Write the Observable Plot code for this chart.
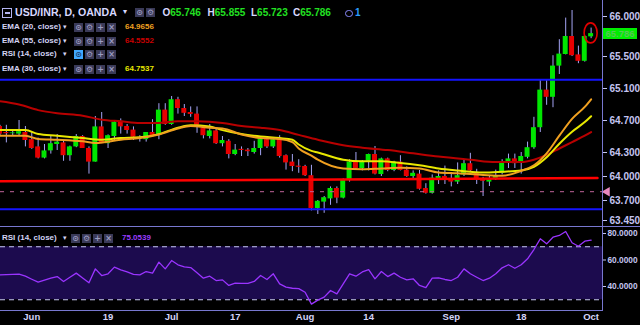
<!DOCTYPE html>
<html><head><meta charset="utf-8">
<script src="https://cdn.jsdelivr.net/npm/d3@7"></script>
<script src="https://cdn.jsdelivr.net/npm/@observablehq/plot@0.6"></script>
<style>
html,body{margin:0;padding:0;background:#000;}
#wrap{position:relative;width:640px;height:325px;background:#000;overflow:hidden;font-family:"Liberation Sans",Arial,sans-serif;}
#wrap svg{position:absolute;left:0;}
.a{position:absolute;white-space:nowrap;line-height:1;}
.lg{font-size:8px;font-weight:bold;color:#d4d4f4;}
.ib{position:absolute;width:9px;height:9px;background:#3a3a58;color:#9c9cc0;font-size:8px;line-height:9px;text-align:center;font-family:"DejaVu Sans",sans-serif;font-weight:bold;}
.ln{position:absolute;background:#7878d0;}
</style></head>
<body><div id="wrap"></div>
<script>
// ---------- data ----------
const opens = [64.625,64.55,64.535,64.53,64.55,64.46,64.37,64.23,64.32,64.40,
64.42,64.26,64.37,64.50,64.35,64.18,64.62,64.41,64.50,64.69,
64.625,64.58,64.49,64.46,64.55,64.525,64.83,64.65,64.96,64.85,
64.80,64.78,64.60,64.50,64.57,64.41,64.44,64.275,64.34,64.33,
64.30,64.35,64.46,64.37,64.48,64.26,64.18,64.13,64.125,64.01,
63.60,63.68,63.72,63.85,63.73,63.96,64.18,64.10,64.19,64.275,
64.025,64.22,64.075,64.18,64.08,64.0,64.03,63.85,63.79,63.97,
64.0,63.97,63.93,64.02,64.16,64.05,63.97,63.93,63.97,64.04,
64.18,64.22,64.18,64.24,64.36,64.61,65.08,64.99,65.38,65.525,
65.75,65.52,65.44,65.746];
const highs = [64.64,64.64,64.57,64.70,64.625,64.55,64.48,64.40,64.51,64.525,
64.44,64.38,64.525,64.51,64.37,64.75,64.80,64.52,64.69,64.72,
64.65,64.62,64.51,64.55,64.71,64.91,64.91,65.0,64.99,64.90,
64.87,64.87,64.63,64.65,64.60,64.50,64.46,64.40,64.37,64.35,
64.44,64.48,64.49,64.48,64.51,64.27,64.275,64.21,64.14,64.14,
63.70,63.75,63.87,63.87,63.97,64.21,64.30,64.20,64.28,64.375,
64.23,64.23,64.19,64.26,64.12,64.07,64.075,63.91,64.02,64.07,
64.13,64.05,64.17,64.20,64.29,64.09,63.99,64.01,64.08,64.21,
64.28,64.28,64.30,64.43,64.74,65.21,65.21,65.51,65.71,65.98,
66.075,65.63,65.76,65.855];
const lows = [64.50,64.42,64.51,64.50,64.37,64.34,64.22,64.22,64.28,64.325,
64.19,64.19,64.36,64.35,64.03,64.18,64.41,64.35,64.44,64.53,
64.53,64.45,64.43,64.43,64.50,64.46,64.64,64.64,64.78,64.75,
64.74,64.54,64.47,64.47,64.40,64.37,64.22,64.26,64.25,64.25,
64.28,64.26,64.35,64.35,64.23,64.08,64.06,64.04,64.0,63.57,
63.525,63.54,63.64,63.66,63.72,63.93,64.08,64.07,64.07,64.02,
64.0,64.06,64.06,64.07,63.99,63.95,63.83,63.78,63.78,63.90,
63.90,63.87,63.90,64.0,64.06,63.90,63.75,63.875,63.95,64.02,
64.10,64.10,64.03,64.22,64.34,64.55,64.89,64.86,65.275,65.52,
65.50,65.41,65.43,65.723];
const closes = [64.53,64.535,64.545,64.56,64.45,64.35,64.23,64.32,64.41,64.43,
64.26,64.37,64.50,64.35,64.18,64.62,64.41,64.51,64.68,64.62,
64.575,64.49,64.47,64.55,64.51,64.83,64.65,64.96,64.85,64.79,
64.775,64.64,64.51,64.57,64.41,64.45,64.275,64.33,64.325,64.31,
64.35,64.47,64.37,64.46,64.25,64.17,64.125,64.115,64.01,63.60,
63.69,63.735,63.85,63.73,63.95,64.18,64.10,64.19,64.275,64.03,
64.22,64.075,64.18,64.075,64.0,64.04,63.84,63.79,63.98,64.0,
63.95,63.93,64.01,64.16,64.07,63.97,63.94,63.96,64.01,64.17,
64.22,64.16,64.25,64.36,64.61,65.08,64.99,65.38,65.53,65.75,
65.51,65.44,65.75,65.786];

const ema20Idx = [0,4,6,9,13,15,19,22,25,28,30,33,35,38,41,44,46,47,49,50,54,57,60,63,66,69,72,76,79,82,84,86,88,90,92,93];
const ema20Val = [64.51,64.51,64.47,64.46,64.44,64.42,64.46,64.48,64.525,64.60,64.63,64.61,64.60,64.525,64.48,64.47,64.43,64.35,64.26,64.21,64.10,64.09,64.10,64.11,64.10,64.05,64.04,64.02,64.01,64.07,64.14,64.29,64.51,64.72,64.87,64.9656];
const ema30Idx = [0,4,6,9,13,16,19,22,25,28,30,33,35,38,41,44,46,47,49,50,54,57,60,63,66,69,72,76,79,82,84,86,88,90,92,93];
const ema30Val = [64.58,64.58,64.53,64.51,64.48,64.46,64.48,64.49,64.53,64.61,64.64,64.625,64.58,64.53,64.50,64.48,64.46,64.40,64.32,64.30,64.21,64.19,64.19,64.17,64.14,64.10,64.075,64.05,64.06,64.075,64.12,64.24,64.41,64.56,64.68,64.7537];
const ema55Idx = [0,3,6,9,13,16,19,22,25,28,31,35,38,41,44,47,50,54,57,61,65,69,74,78,82,84,86,88,90,92,93];
const ema55Val = [64.94,64.90,64.83,64.79,64.76,64.71,64.69,64.67,64.67,64.69,64.69,64.67,64.63,64.61,64.58,64.52,64.46,64.39,64.36,64.33,64.29,64.25,64.21,64.18,64.18,64.21,64.27,64.35,64.43,64.51,64.5552];

const rsiValues = [48.8,49.0,49.1,49.3,47.8,45.5,43.3,44.8,46.3,47.5,
43.8,47.0,50.1,46.5,42.8,53.3,48.3,49.6,54.6,52.6,
51.0,49.1,48.8,51.3,50.1,58.4,53.3,59.6,56.4,54.8,
54.3,50.3,46.3,47.8,44.5,45.0,40.8,42.5,42.4,42.3,
43.8,48.3,45.3,49.6,42.0,39.5,38.7,38.4,35.7,26.7,
29.7,32.0,37.0,34.5,42.0,49.6,47.8,51.0,52.8,45.8,
51.3,47.5,50.1,47.0,45.0,45.8,40.8,39.2,46.3,46.5,
45.3,44.5,47.0,53.3,49.6,47.0,44.5,46.3,49.6,54.1,
56.4,53.8,56.4,60.9,67.9,76.0,72.2,77.2,78.5,81.5,
73.0,70.4,74.2,75.05];
const rsiLastLabel = "75.0539";
const rsiBand = [30, 70];

const tickIdx = [5,17,27,37,48,58,71,82,93];
const tickLabels = ["Jun","19","Jul","17","Aug","14","Sep","18","Oct"];
const priceTicks = [66.0, 65.5, 65.1, 64.7, 64.3, 64.0, 63.7, 63.45];
const rsiTicks = [80, 60, 40];

const blueLevels = [65.21, 63.59];
const trendIdx = [0, 94];
const trendVal = [63.94, 63.98];
const alertLevel = 63.81;

const legendRows = [
  {label:"EMA (20, close)", value:"64.9656", color:"#f0a020"},
  {label:"EMA (55, close)", value:"64.5552", color:"#c80000"},
  {label:"RSI (14, close)", value:null, color:null},
  {label:"EMA (30, close)", value:"64.7537", color:"#e8e800"}
];
const ohlc = [["O","65.746"],["H","65.855"],["L","65.723"],["C","65.786"]];

// ---------- build ----------
const xDomain = [0.08, 94.79];
const bars = opens.map((o,i)=>({i, o, h:highs[i], l:lows[i], c:closes[i]}));
const up = bars.filter(d=>d.c>=d.o), dn = bars.filter(d=>d.c<d.o);
const pts = (idx, val) => idx.map((i,k)=>({i, v:val[k]}));
const fontFam = "Liberation Sans, Arial, sans-serif";

const main = Plot.plot({
  width:640, height:226, marginLeft:0, marginRight:38, marginTop:0, marginBottom:0,
  style:{background:"transparent", color:"#c4c4f0", fontFamily:fontFam, fontWeight:"bold", fontSize:"10px", overflow:"visible"},
  x:{domain:xDomain, axis:null},
  y:{domain:[63.375, 66.2], axis:null},
  marks:[
    Plot.ruleX(bars,{x:"i", y1:"l", y2:"h", stroke:"#a4a4f4", strokeWidth:1}),
    Plot.rect(up,{x1:d=>d.i-0.39, x2:d=>d.i+0.39, y1:"o", y2:"c", fill:"#00e600"}),
    Plot.rect(dn,{x1:d=>d.i-0.39, x2:d=>d.i+0.39, y1:"o", y2:"c", fill:"#e60000"}),
    Plot.line(pts(ema55Idx, ema55Val),{x:"i", y:"v", stroke:"#b80000", strokeWidth:2, curve:"monotone-x"}),
    Plot.line(pts(ema30Idx, ema30Val),{x:"i", y:"v", stroke:"#e8e800", strokeWidth:2, curve:"monotone-x"}),
    Plot.line(pts(ema20Idx, ema20Val),{x:"i", y:"v", stroke:"#f0a020", strokeWidth:2, curve:"monotone-x"}),
    Plot.ruleY(blueLevels,{stroke:"#1414ff", strokeWidth:2}),
    Plot.line(pts(trendIdx, trendVal),{x:"i", y:"v", stroke:"#ff0000", strokeWidth:2.5}),
    Plot.ruleY([alertLevel],{stroke:"#c0649a", strokeWidth:1, strokeDasharray:"4,6"}),
    Plot.dot([alertLevel],{x:()=>xDomain[1], y:d=>d, symbol:"triangle", rotate:-90, r:3.5, fill:"#e888c0", stroke:"none", dx:4.5}),
    Plot.axisY(priceTicks,{anchor:"right", tickSize:4, tickPadding:3, label:null, tickFormat:d=>d.toFixed(3), fontSize:10})
  ]
});
main.style.top = "0px";

const rsi = Plot.plot({
  width:640, height:99, marginLeft:0, marginRight:38, marginTop:0, marginBottom:15,
  style:{background:"transparent", color:"#c4c4f0", fontFamily:fontFam, fontWeight:"bold", fontSize:"9px", overflow:"visible"},
  x:{domain:xDomain, axis:null},
  y:{domain:[21.9, 85.28], axis:null},
  marks:[
    Plot.rect([rsiBand],{y1:d=>d[0], y2:d=>d[1], fill:"#1c0b4e"}),
    Plot.ruleY(rsiBand,{stroke:"#c8c8f4", strokeWidth:1, strokeDasharray:"5,4"}),
    Plot.line(rsiValues.map((v,i)=>({i,v})),{x:"i", y:"v", stroke:"#9a34ff", strokeWidth:1.3}),
    Plot.axisY(rsiTicks,{anchor:"right", tickSize:3, tickPadding:2, label:null, tickFormat:d=>d.toFixed(4), fontSize:8.3}),
    Plot.axisX(tickIdx,{anchor:"bottom", tickSize:0, tickPadding:3, label:null, tickFormat:d=>tickLabels[tickIdx.indexOf(d)], fontSize:9.5, fill:"#d4d4f8"})
  ]
});
rsi.style.top = "226px";

const wrap = document.getElementById("wrap");
wrap.appendChild(main);
wrap.appendChild(rsi);

// red ellipse around last candle (positioned through the scales)
const sx = main.scale("x"), sy = main.scale("y");
const last = bars[bars.length-1];
const ns = "http://www.w3.org/2000/svg";
const ell = document.createElementNS(ns, "ellipse");
ell.setAttribute("cx", sx.apply(last.i));
ell.setAttribute("cy", sy.apply((last.h+last.l)/2));
ell.setAttribute("rx", 6.5); ell.setAttribute("ry", 10);
ell.setAttribute("fill", "none"); ell.setAttribute("stroke", "#e00000"); ell.setAttribute("stroke-width", 1.6);
main.appendChild(ell);

function add(cls, style, text){
  const d = document.createElement("div"); d.className = cls;
  Object.assign(d.style, style); if (text != null) d.textContent = text;
  wrap.appendChild(d); return d;
}
// panel lines
add("ln",{left:"602px", top:"0px", width:"1px", height:"311px"});
add("ln",{left:"0px", top:"226px", width:"640px", height:"1px"});
add("ln",{left:"0px", top:"310px", width:"603px", height:"1px"});

// last price label
const yl = sy.apply(last.c);
add("a",{left:"603px", top:(yl-5.5)+"px", width:"34px", height:"11px", background:"#00ee00", color:"#55c855", fontSize:"9.5px", fontWeight:"bold", lineHeight:"11px", textAlign:"center"}, last.c.toFixed(3));

// header
add("a",{left:"2px", top:"8px", width:"8px", height:"8px", border:"1.5px solid #b4b4f0"});
add("a",{left:"4.5px", top:"12px", width:"5px", height:"1.5px", background:"#b4b4f0"});
add("a",{left:"15px", top:"7.3px", fontSize:"10.6px", fontWeight:"bold", color:"#d8d8ff"}, "USD/INR, D, OANDA");
add("a",{left:"123px", top:"8px", fontSize:"8px", color:"#d8d8ff", fontFamily:"DejaVu Sans"}, "▾");
function icons(x, top, syms, hl){
  syms.forEach((s,k)=>{
    const st = {left:(x+k*11)+"px", top:top+"px"};
    if (hl && k===0){ st.background="#40a8ff"; st.color="#1a3a6a"; }
    add("ib", st, s);
  });
}
icons(135, 8, ["⊙","⚙"], false);
const ohlcX = [162.5, 207.5, 251, 293];
ohlc.forEach(([k,v],j)=>{
  const d = add("a",{left:ohlcX[j]+"px", top:"8px", fontSize:"10px", fontWeight:"bold", color:"#d8d8ff"}, k);
  const s = document.createElement("span"); s.style.color = "#22e022"; s.textContent = v; d.appendChild(s);
});
// alarm icon
add("a",{left:"345px", top:"9.5px", width:"5.5px", height:"5.5px", border:"1.5px solid #8a8aff", borderRadius:"50%"});
add("a",{left:"355px", top:"8px", fontSize:"10px", fontWeight:"bold", color:"#2a9dff"}, "1");

// legend rows
const rowTops = [23, 37, 50, 65];
legendRows.forEach((r,k)=>{
  const t = rowTops[k];
  add("a lg",{left:"2px", top:(t+0.3)+"px"}, r.label);
  add("a",{left:"63px", top:(t+1)+"px", fontSize:"7px", color:"#d4d4f4", fontFamily:"DejaVu Sans"}, "▾");
  icons(74, t, ["⊙","⚙","+","×"], r.label.startsWith("RSI"));
  if (r.value) add("a lg",{left:"125px", top:(t+0.3)+"px", color:r.color}, r.value);
});
// RSI legend
add("a lg",{left:"2px", top:"234px"}, "RSI (14, close)");
add("a",{left:"63px", top:"235px", fontSize:"7px", color:"#d4d4f4", fontFamily:"DejaVu Sans"}, "▾");
icons(71, 233.5, ["⊙","⚙","+","×"], false);
add("a lg",{left:"122px", top:"234px", color:"#9b3dff"}, rsiLastLabel);
</script></body></html>
